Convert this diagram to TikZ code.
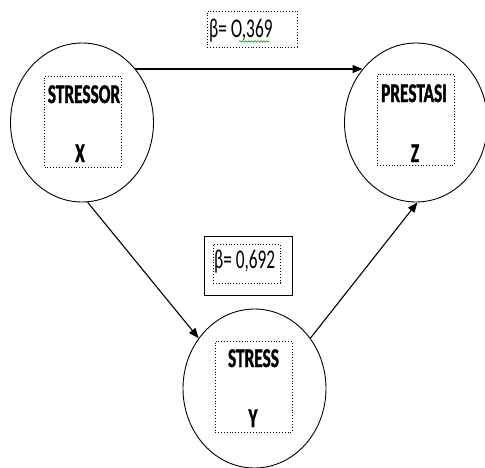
\documentclass[tikz,border=0pt]{standalone}
\usepackage{fontspec}
\setmainfont{Carlito}[FakeStretch=0.64,BoldFeatures={FakeBold=1.2}]
\usetikzlibrary{shapes.geometric,arrows.meta,decorations.pathmorphing}
\begin{document}
\begin{tikzpicture}[x=1pt,y=-1pt,
  varnode/.style={ellipse,draw,line width=0.9pt,minimum width=143pt,minimum height=159pt,inner sep=0pt},
  dotbox/.style={draw,dotted,line width=0.9pt,minimum width=77pt,minimum height=91pt,inner sep=0pt},
  vlabel/.style={font=\fontsize{27}{27}\selectfont\bfseries,anchor=base,inner sep=0pt},
  blabel/.style={font=\fontsize{27}{27}\selectfont,anchor=base west,inner sep=0pt},
  conn/.style={line width=1.1pt,-{Triangle[length=10pt,width=8pt]}}]
\useasboundingbox (0,0) rectangle (485,467);
% circles
\node[varnode] (X) at (82,122.5) {};
\node[varnode] (Z) at (416,122.5) {};
\node[varnode] (Y) at (254.5,388.5) {};
% inner dotted boxes
\node[dotbox] (Xb) at (83,121.5) {};
\node[dotbox] (Zb) at (415.5,119.5) {};
\node[dotbox] (Yb) at (253.5,386.5) {};
% texts
\node[vlabel] (Xt1) at (84,103) {STRESSOR};
\node[vlabel] (Xt2) at (80,162) {X};
\node[vlabel] (Zt1) at (414,102) {PRESTASI};
\node[vlabel] (Zt2) at (415,162) {Z};
\node[vlabel] (Yt1) at (253.5,367) {STRESS};
\node[vlabel] (Yt2) at (253,427) {Y};
% beta labels
\node[draw,dotted,line width=0.9pt,minimum width=90pt,minimum height=36pt,inner sep=0pt] (b1box) at (252,29) {};
\node[blabel] (b1) at (209,37) {β= O,369};
\draw[green!60!black,line width=0.6pt,decorate,decoration={snake,amplitude=0.8pt,segment length=3pt}] (239,41.5) -- (269,41.5);
\node[draw,line width=1pt,minimum width=88pt,minimum height=59pt,inner sep=0pt] (b2out) at (248,265.5) {};
\node[draw,dotted,line width=0.9pt,minimum width=67pt,minimum height=39pt,inner sep=0pt] (b2box) at (246.5,263.5) {};
\node[blabel] (b2) at (214,268) {β= 0,692};
% connectors
\draw[conn] (X.45) -- (Z.135);
\draw[conn] (X.-86) -- (Y.138);
\draw[conn] (Y.42) -- (Z.-89);
\end{tikzpicture}
\end{document}
